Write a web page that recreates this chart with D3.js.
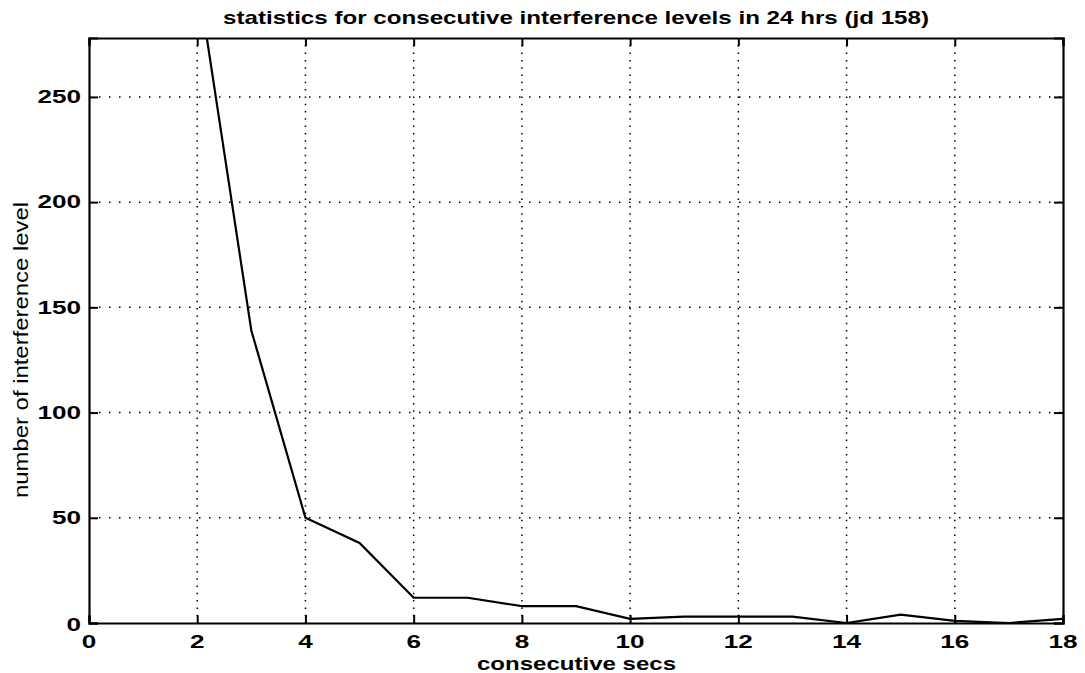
<!DOCTYPE html>
<html><head><meta charset="utf-8">
<script src="https://cdn.jsdelivr.net/npm/d3@7"></script>
<style>body{margin:0;background:#fff;} text{font-family:"Liberation Sans",Arial,sans-serif;}</style>
</head><body>
<svg id="c" width="1085" height="673"></svg>
<script>
const secs = [2,3,4,5,6,7,8,9,10,11,12,13,14,15,16,17,18];
const counts = [308,139,50,38,12,12,8,8,2,3,3,3,0,4,1,0,2];
const xTicks = [0,2,4,6,8,10,12,14,16,18];
const yTicks = [0,50,100,150,200,250];
const titleText = "statistics for consecutive interference levels in 24 hrs (jd 158)";
const xLabel = "consecutive secs";
const yLabel = "number of interference level";

const svg = d3.select("#c");
const L=89, R=1063, T=38, B=623;
const x = d3.scaleLinear().domain([0,18]).range([L,R]);
const y = d3.scaleLinear().domain([0,278]).range([B,T]);

svg.append("rect").attr("width",1085).attr("height",673).attr("fill","#fff");
svg.append("clipPath").attr("id","cl").append("rect")
  .attr("x",L).attr("y",T).attr("width",R-L).attr("height",B-T);

// grid
const g = svg.append("g");
g.selectAll(".gx").data(xTicks.filter(d=>d>0&&d<18)).enter().append("line")
  .attr("x1",d=>x(d)).attr("x2",d=>x(d)).attr("y1",T).attr("y2",B)
  .attr("stroke","#000").attr("stroke-width",1.5).attr("stroke-dasharray","1.5,5.8");
g.selectAll(".gy").data(yTicks.filter(d=>d>0)).enter().append("line")
  .attr("x1",L).attr("x2",R).attr("y1",d=>y(d)).attr("y2",d=>y(d))
  .attr("stroke","#000").attr("stroke-width",1.5).attr("stroke-dasharray","1.5,8.5");

// data line
const line = d3.line().x((d,i)=>x(secs[i])).y(d=>y(d));
svg.append("path").datum(counts).attr("d",line).attr("fill","none")
  .attr("stroke","#000").attr("stroke-width",2.2).attr("clip-path","url(#cl)");

// axes
const xb = svg.append("g").attr("transform",`translate(0,${B})`)
  .call(d3.axisBottom(x).tickValues(xTicks).tickSize(-8).tickFormat(""));
const xt = svg.append("g").attr("transform",`translate(0,${T})`)
  .call(d3.axisTop(x).tickValues(xTicks).tickSize(-8).tickFormat(""));
const yl = svg.append("g").attr("transform",`translate(${L},0)`)
  .call(d3.axisLeft(y).tickValues(yTicks).tickSize(-9).tickFormat(""));
const yr = svg.append("g").attr("transform",`translate(${R},0)`)
  .call(d3.axisRight(y).tickValues(yTicks).tickSize(-9).tickFormat(""));
[xb,xt,yl,yr].forEach(a=>{
  a.select(".domain").attr("stroke","#000").attr("stroke-width",2.2);
  a.selectAll(".tick line").attr("stroke","#000").attr("stroke-width",2);
});

// tick labels (wide lettering, horizontally stretched)
const SX = 1.45;
svg.append("g").selectAll("text").data(xTicks).enter().append("text")
  .attr("transform",d=>`translate(${x(d)},648) scale(${SX},1)`)
  .attr("text-anchor","middle").style("font-size","18px").style("font-weight","bold")
  .text(d=>d3.format("d")(d));
svg.append("g").selectAll("text").data(yTicks).enter().append("text")
  .attr("transform",d=>`translate(81,${y(d)+(d===0?2:0)}) scale(${SX},1)`)
  .attr("text-anchor","end").attr("dy","0.35em").style("font-size","18px").style("font-weight","bold")
  .text(d=>d3.format("d")(d));

svg.append("text").attr("x",576).attr("y",24).attr("text-anchor","middle")
  .attr("textLength",706).attr("lengthAdjust","spacingAndGlyphs")
  .style("font-size","19px").style("font-weight","bold").text(titleText);
svg.append("text").attr("x",576.5).attr("y",670).attr("text-anchor","middle")
  .attr("textLength",199).attr("lengthAdjust","spacingAndGlyphs")
  .style("font-size","19px").style("font-weight","bold").text(xLabel);
svg.append("text").attr("transform",`translate(28,350) rotate(-90)`).attr("text-anchor","middle")
  .attr("textLength",296).attr("lengthAdjust","spacingAndGlyphs")
  .style("font-size","20px").style("font-family","'Liberation Sans Narrow','Liberation Sans',sans-serif")
  .text(yLabel);
</script>
</body></html>
